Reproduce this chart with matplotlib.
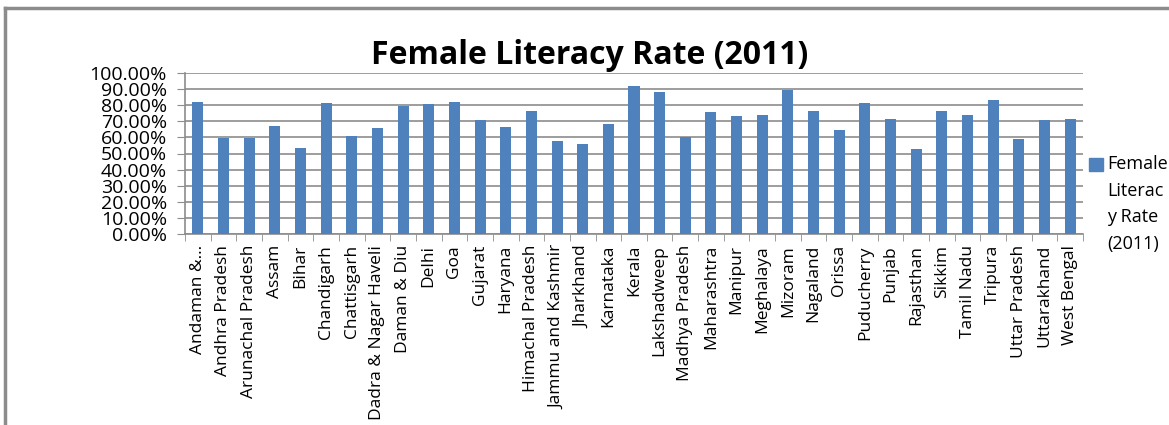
import matplotlib.pyplot as plt
from matplotlib.patches import Rectangle
from matplotlib.ticker import PercentFormatter, FixedLocator
import numpy as np

states = ['Andaman &...', 'Andhra Pradesh', 'Arunachal Pradesh', 'Assam', 'Bihar',
          'Chandigarh', 'Chattisgarh', 'Dadra & Nagar Haveli', 'Daman & Diu', 'Delhi',
          'Goa', 'Gujarat', 'Haryana', 'Himachal Pradesh', 'Jammu and Kashmir',
          'Jharkhand', 'Karnataka', 'Kerala', 'Lakshadweep', 'Madhya Pradesh',
          'Maharashtra', 'Manipur', 'Meghalaya', 'Mizoram', 'Nagaland', 'Orissa',
          'Puducherry', 'Punjab', 'Rajasthan', 'Sikkim', 'Tamil Nadu', 'Tripura',
          'Uttar Pradesh', 'Uttarakhand', 'West Bengal']
female_rate = [0.8184, 0.5974, 0.5957, 0.6727, 0.5333, 0.8138, 0.6059, 0.6593,
               0.7955, 0.8093, 0.8184, 0.7073, 0.6677, 0.7660, 0.5801, 0.5621,
               0.6813, 0.9207, 0.8825, 0.6002, 0.7548, 0.7317, 0.7378, 0.8940,
               0.7669, 0.6436, 0.8122, 0.7134, 0.5266, 0.7643, 0.7386, 0.8315,
               0.5926, 0.7070, 0.7116]
legend_label = 'Female\nLiterac\ny Rate\n(2011)'
title = 'Female Literacy Rate (2011)'

plt.rcParams['font.family'] = ['Open Sans', 'DejaVu Sans']

W, H = 1169, 425
fig = plt.figure(figsize=(W / 100, H / 100), dpi=100)
ax = fig.add_axes([185 / W, (H - 234) / H, (1083 - 185) / W, (234 - 73) / H])

x = np.arange(len(states))
ax.bar(x, female_rate, width=0.43, color='#4F81BD', zorder=3)

ax.set_xlim(-0.5, len(states) - 0.5)
ax.set_ylim(0, 1.0)
ax.yaxis.set_major_locator(FixedLocator(np.linspace(0, 1, 11)))
ax.yaxis.set_major_formatter(PercentFormatter(1.0, decimals=2))
ax.grid(axis='y', color='#8c8c8c', linewidth=1.2, zorder=0)

# category labels at centres, tick marks at the boundaries
ax.set_xticks(x)
ax.set_xticklabels(states, rotation=90, fontsize=12.5)
ax.set_xticks(np.arange(len(states) + 1) - 0.5, minor=True)
ax.tick_params(axis='x', which='major', length=0, pad=8)
ax.tick_params(axis='x', which='minor', length=5, color='#8c8c8c', direction='out')
ax.tick_params(axis='y', length=6, color='#8c8c8c', labelsize=14, pad=7)

for side in ['top', 'right']:
    ax.spines[side].set_visible(False)
for side in ['left', 'bottom']:
    ax.spines[side].set_color('#8c8c8c')
    ax.spines[side].set_linewidth(1.2)

fig.text(590 / W, 1 - 55 / H, title, ha='center', va='center',
         fontsize=23, fontweight='bold')

# legend
fig.patches.append(Rectangle((1089 / W, 1 - 171 / H), 14 / W, 13 / H,
                             transform=fig.transFigure, color='#4F81BD'))
fig.text(1107 / W, 1 - 155 / H, legend_label, ha='left', va='top',
         fontsize=13, linespacing=1.62)

# chart area border
fig.add_artist(plt.Line2D([5 / W, 5 / W], [0, 1 - 8 / H], color='#8c8c8c', lw=2.5,
                          transform=fig.transFigure))
fig.add_artist(plt.Line2D([5 / W, 1], [1 - 8 / H, 1 - 8 / H], color='#8c8c8c', lw=2.5,
                          transform=fig.transFigure))

fig.savefig('out.png', dpi=100)
